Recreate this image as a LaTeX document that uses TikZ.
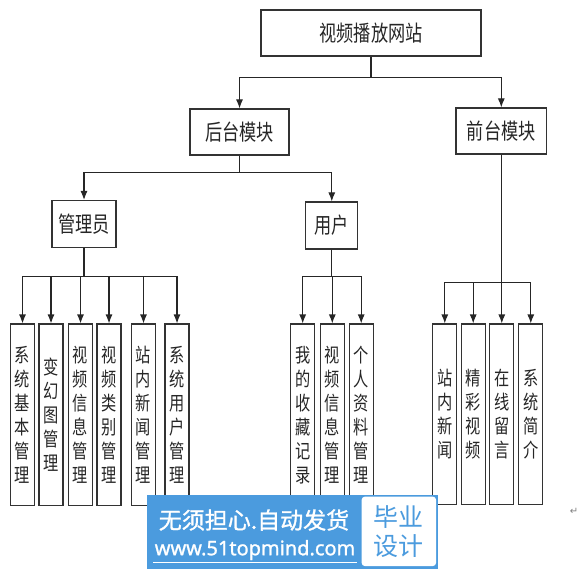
\documentclass[tikz,border=0pt]{standalone}
\usepackage{fontspec}
\usetikzlibrary{arrows.meta}
\newfontfamily\cjk[FakeStretch=0.78]{Noto Sans CJK SC}
\newfontfamily\cjkw[FakeBold=1.2]{Noto Sans CJK SC}
\newfontfamily\cjkl{Noto Sans CJK SC}
\newfontfamily\wmlat[FakeBold=1.2]{Noto Sans}
\newfontfamily\symf{DejaVu Sans}
\definecolor{wmblue}{RGB}{75,155,222}
\tikzset{
  box/.style={draw=black!80, line width=1.1pt, inner sep=0pt, text=black!85},
  mid/.style={box, font=\cjk\fontsize{22}{26}\selectfont},
  leaf/.style={box, minimum width=24pt, minimum height=181.5pt, align=center,
               font=\cjk\fontsize{19.5}{24}\selectfont},
  fleaf/.style={leaf, minimum height=180.5pt},
  arr/.style={draw=black!85, line width=1.1pt, -{Latex[length=9pt,width=7pt]}}
}
\begin{document}
\begin{tikzpicture}[x=1pt,y=-1pt]
\useasboundingbox (0,0) rectangle (585,569);
% level 0-2
\node[mid, minimum width=220pt, minimum height=46pt] (top) at (371,33) {视频播放网站};
\node[mid, minimum width=99pt, minimum height=46pt] (bk) at (239.5,132) {后台模块};
\node[mid, minimum width=90.7pt, minimum height=46pt] (fr) at (501.3,131) {前台模块};
\node[mid, minimum width=64pt, minimum height=47pt] (adm) at (84,224) {管理员};
\node[mid, minimum width=52pt, minimum height=47pt] (usr) at (331.8,225.5) {用户};
% admin leaves
\node[leaf] (a1) at (22.5,414.75) {系\\统\\基\\本\\管\\理};
\node[leaf] (a2) at (51,414.75) {变\\幻\\图\\管\\理};
\node[leaf] (a3) at (80.5,414.75) {视\\频\\信\\息\\管\\理};
\node[leaf] (a4) at (109,414.75) {视\\频\\类\\别\\管\\理};
\node[leaf] (a5) at (143.5,414.75) {站\\内\\新\\闻\\管\\理};
\node[leaf] (a6) at (177,414.75) {系\\统\\用\\户\\管\\理};
% user leaves
\node[leaf] (u1) at (302.7,414.75) {我\\的\\收\\藏\\记\\录};
\node[leaf] (u2) at (332.3,414.75) {视\\频\\信\\息\\管\\理};
\node[leaf] (u3) at (361.2,414.75) {个\\人\\资\\料\\管\\理};
% front leaves
\node[fleaf] (f1) at (444.8,414.25) {站\\内\\新\\闻};
\node[fleaf] (f2) at (473.2,414.25) {精\\彩\\视\\频};
\node[fleaf] (f3) at (501.8,414.25) {在\\线\\留\\言};
\node[fleaf] (f4) at (530.8,414.25) {系\\统\\简\\介};
% connectors
\draw[arr] (top.south) -- ++(0,21) -| (bk.north);
\draw[arr] (top.south) -- ++(0,21) -| (fr.north);
\draw[arr] (bk.south) -- ++(0,17) -| (adm.north);
\draw[arr] (bk.south) -- ++(0,17) -| (usr.north);
\foreach \i in {1,...,6}{\draw[arr] (adm.south) -- ++(0,28.5) -| (a\i.north);}
\foreach \i in {1,2,3}{\draw[arr] (usr.south) -- ++(0,27) -| (u\i.north);}
\foreach \i in {1,...,4}{\draw[arr] (fr.south) -- ++(0,128) -| (f\i.north);}
% return mark
\node[font=\symf\fontsize{10}{10}\selectfont, text=black!50] (ret) at (574,511) {↵};
% watermark
\fill[wmblue] (146.7,495) rectangle (438.3,569);
\fill[white, rounded corners=3pt] (361.7,496.7) rectangle (436,566);
\node[font=\cjkw\fontsize{23}{23}\selectfont, text=white] (wm1) at (254,520) {无须担心.自动发货};
\node[font=\wmlat\fontsize{20}{20}\selectfont, text=white] (wm2) at (255,550) {www.51topmind.com};
\draw[white, line width=1pt] (153,562) -- (357,562);
\node[font=\cjkl\fontsize{25}{29}\selectfont, text=wmblue, align=center] (wm3) at (398,532) {毕业\\设计};
\end{tikzpicture}
\end{document}
